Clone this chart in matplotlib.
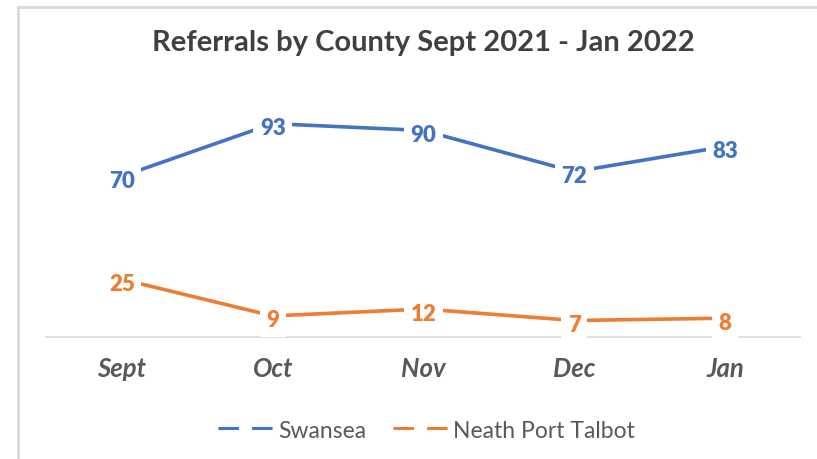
import matplotlib.pyplot as plt
from matplotlib.lines import Line2D
from matplotlib.transforms import offset_copy

plt.rcParams['font.family'] = ['Lato', 'DejaVu Sans']

# monthly referral counts per county
months = ['Sept', 'Oct', 'Nov', 'Dec', 'Jan']
swansea = [70, 93, 90, 72, 83]
neath_pt = [25, 9, 12, 7, 8]

blue = '#4472C4'
orange = '#ED7D31'
grey_txt = '#595959'

fig = plt.figure(figsize=(8.17, 4.6), dpi=100)
ax = fig.add_axes([0.0569, 0.2663, 0.9229, 0.4976])

x = range(len(months))
ax.plot(x, swansea, color=blue, lw=2.6, solid_capstyle='butt', zorder=3)
ax.plot(x, neath_pt, color=orange, lw=2.6, solid_capstyle='butt', zorder=3)

# value labels sit on the points with a white box hiding the line underneath
lab_tr = offset_copy(ax.transData, fig=fig, x=0, y=-4, units='dots')
for series, col in [(swansea, blue), (neath_pt, orange)]:
    for i, v in enumerate(series):
        ax.text(i, v, str(v), ha='center', va='center', fontsize=16,
                fontweight='heavy', color=col, zorder=5, clip_on=False,
                transform=lab_tr,
                bbox=dict(boxstyle='square,pad=0.3', fc='white', ec='none'))

ax.set_xlim(-0.5, len(months) - 0.5)
ax.set_ylim(0, 100)
ax.set_yticks([])
ax.set_xticks(list(x))
ax.set_xticklabels(months, fontsize=18.5, fontweight='bold', fontstyle='italic',
                   color=grey_txt)
ax.tick_params(axis='x', length=0, pad=14)
for s in ['top', 'left', 'right']:
    ax.spines[s].set_visible(False)
ax.spines['bottom'].set_color('#D9D9D9')
ax.spines['bottom'].set_linewidth(1.2)
ax.spines['bottom'].set_zorder(1)

fig.text(0.518, 0.906, 'Referrals by County Sept 2021 - Jan 2022', ha='center',
         va='center', fontsize=21, fontweight='bold', color='#404040')

handles = [Line2D([], [], color=blue, lw=2.2, ls=(0, (6.7, 4.3))),
           Line2D([], [], color=orange, lw=2.2, ls=(0, (6.7, 4.3)))]
fig.legend(handles, ['Swansea', 'Neath Port Talbot'], loc='center',
           bbox_to_anchor=(0.522, 0.063), ncol=2, frameon=False, fontsize=16.5,
           handlelength=2.4, handletextpad=0.2, columnspacing=1.2,
           labelcolor=grey_txt)

# chart frame
fig.add_artist(Line2D([17.5 / 817, 17.5 / 817], [0, 1 - 7.5 / 460],
                      transform=fig.transFigure, color='#D9D9D9', lw=2))
fig.add_artist(Line2D([17.5 / 817, 1], [1 - 7.5 / 460, 1 - 7.5 / 460],
                      transform=fig.transFigure, color='#D9D9D9', lw=2))

fig.savefig('out.png', dpi=100)
